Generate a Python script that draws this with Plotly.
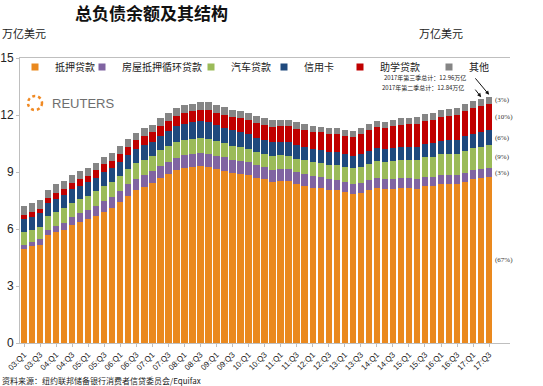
import plotly.graph_objects as go

# ---------------- data (trillion USD) ----------------
quarters = [f"{y:02d}:Q{q}" for y in range(3, 18) for q in range(1, 5)][:59]

mortgage = [4.94, 5.08, 5.18, 5.66,
            5.84, 5.97, 6.21, 6.36,
            6.51, 6.70, 6.91, 7.10,
            7.44, 7.76, 8.04, 8.23,
            8.42, 8.71, 8.91, 9.10,
            9.23, 9.27, 9.29, 9.26,
            9.14, 9.06, 8.94, 8.90,
            8.83, 8.70, 8.61, 8.45,
            8.54, 8.52, 8.36, 8.28,
            8.17, 8.15, 8.03, 8.03,
            7.93, 7.84, 7.90, 8.05,
            8.17, 8.10, 8.13, 8.17,
            8.17, 8.12, 8.26, 8.25,
            8.37, 8.36, 8.35, 8.48,
            8.63, 8.69, 8.74]
heloc = [0.24, 0.26, 0.27, 0.30,
         0.33, 0.37, 0.43, 0.47,
         0.50, 0.53, 0.54, 0.57,
         0.58, 0.59, 0.60, 0.60,
         0.61, 0.62, 0.63, 0.65,
         0.66, 0.68, 0.69, 0.71,
         0.71, 0.71, 0.71, 0.69,
         0.68, 0.67, 0.66, 0.67,
         0.64, 0.63, 0.62, 0.61,
         0.60, 0.59, 0.58, 0.56,
         0.55, 0.54, 0.54, 0.53,
         0.53, 0.52, 0.52, 0.51,
         0.51, 0.51, 0.50, 0.49,
         0.49, 0.48, 0.47, 0.47,
         0.46, 0.45, 0.45]
auto = [0.64, 0.62, 0.68, 0.70,
        0.72, 0.74, 0.75, 0.73,
        0.73, 0.77, 0.83, 0.79,
        0.79, 0.80, 0.82, 0.82,
        0.79, 0.81, 0.82, 0.82,
        0.81, 0.81, 0.82, 0.79,
        0.77, 0.74, 0.74, 0.72,
        0.71, 0.70, 0.70, 0.71,
        0.70, 0.71, 0.73, 0.73,
        0.75, 0.76, 0.78, 0.78,
        0.79, 0.81, 0.84, 0.86,
        0.88, 0.91, 0.94, 0.96,
        0.97, 1.00, 1.03, 1.06,
        1.07, 1.10, 1.14, 1.16,
        1.17, 1.19, 1.21]
credit_card = [0.69, 0.69, 0.69, 0.70,
               0.70, 0.70, 0.71, 0.72,
               0.71, 0.71, 0.73, 0.74,
               0.72, 0.74, 0.75, 0.77,
               0.76, 0.78, 0.81, 0.84,
               0.84, 0.85, 0.86, 0.87,
               0.84, 0.82, 0.81, 0.80,
               0.76, 0.74, 0.73, 0.73,
               0.70, 0.70, 0.70, 0.70,
               0.68, 0.67, 0.67, 0.68,
               0.66, 0.67, 0.67, 0.68,
               0.66, 0.67, 0.68, 0.70,
               0.68, 0.70, 0.71, 0.73,
               0.71, 0.73, 0.75, 0.78,
               0.76, 0.78, 0.81]
student = [0.24, 0.24, 0.25, 0.25,
           0.31, 0.32, 0.33, 0.35,
           0.36, 0.37, 0.39, 0.39,
           0.43, 0.44, 0.45, 0.48,
           0.51, 0.51, 0.53, 0.55,
           0.58, 0.58, 0.61, 0.64,
           0.66, 0.68, 0.69, 0.72,
           0.76, 0.76, 0.78, 0.81,
           0.84, 0.85, 0.87, 0.87,
           0.90, 0.91, 0.96, 0.97,
           0.99, 0.99, 1.03, 1.08,
           1.11, 1.12, 1.13, 1.16,
           1.19, 1.19, 1.20, 1.23,
           1.26, 1.26, 1.28, 1.31,
           1.34, 1.34, 1.36]
other = [0.48, 0.49, 0.48, 0.45,
         0.45, 0.42, 0.42, 0.42,
         0.39, 0.40, 0.41, 0.42,
         0.42, 0.42, 0.41, 0.42,
         0.41, 0.40, 0.41, 0.42,
         0.41, 0.41, 0.41, 0.41,
         0.41, 0.41, 0.38, 0.38,
         0.38, 0.37, 0.35, 0.35,
         0.33, 0.33, 0.33, 0.33,
         0.32, 0.31, 0.31, 0.32,
         0.31, 0.30, 0.31, 0.32,
         0.32, 0.33, 0.34, 0.35,
         0.34, 0.35, 0.35, 0.37,
         0.36, 0.37, 0.38, 0.39,
         0.38, 0.39, 0.39]

series_names = ["抵押贷款", "房屋抵押循环贷款", "汽车贷款", "信用卡", "助学贷款", "其他"]
series_values = [mortgage, heloc, auto, credit_card, student, other]
share_labels = ["(67%)", "(3%)", "(9%)", "(6%)", "(10%)", "(3%)"]
total_notes = ["2017年第三季总计：12.96万亿", "2017年第二季总计：12.84万亿"]

# ---------------- style ----------------
colors = ["#EA891E", "#8064A2", "#9BBB59", "#1F497D", "#C00000", "#858585"]
CJK = "Noto Sans CJK SC"
LAT = "Liberation Sans"
W, H = 543, 386
# plot area in window pixels: x 20..510, y 58..343
L, T = 20, 58
R, B = W - 510, H - 343
PW, PH = W - L - R, H - T - B


def px(x):
    """window pixel x -> paper fraction"""
    return (x - L) / PW


def py(y):
    """window pixel y -> paper fraction"""
    return (H - B - y) / PH


xs = list(range(len(quarters)))
fig = go.Figure()
for name, vals, c in zip(series_names, series_values, colors):
    fig.add_trace(go.Bar(x=xs, y=vals, name=name, marker=dict(color=c, line=dict(width=0)),
                         showlegend=False, hovertemplate="%{y:.2f}<extra>" + name + "</extra>"))

# symbol centres of the legend entries (window px)
legend_sym_x = [35, 102, 211, 284, 360, 449]
layout_legends = {}
for i, (name, c) in enumerate(zip(series_names, colors)):
    key = "legend" if i == 0 else f"legend{i + 1}"
    fig.add_trace(go.Scatter(x=[None], y=[None], mode="markers", name=name,
                             marker=dict(symbol="square", size=7, color=c),
                             legend=key, showlegend=True))
    layout_legends[key] = dict(x=px(legend_sym_x[i] - 20), y=py(67), xanchor="left", yanchor="middle",
                               bgcolor="rgba(0,0,0,0)", borderwidth=0,
                               font=dict(family=CJK, size=10, color="#222"))


def note(text, x, y, size, anchor="left", family=CJK, color="#222"):
    return dict(text=text, x=px(x), y=py(y), xref="paper", yref="paper", xanchor=anchor,
                yanchor="middle", showarrow=False, font=dict(family=family, size=size, color=color))


annotations = [
    note("<b>总负债余额及其结构</b>", 151, 13, 17, anchor="center", color="#111"),
    note("万亿美元", 0, 33, 11),
    note("万亿美元", 417, 33, 11),
    note("资料来源：纽约联邦储备银行消费者信贷委员会/Equifax", 0, 380, 8),
    note("REUTERS", 50, 103, 13, family=LAT, color="#6e6e6e"),
    note(total_notes[0], 382, 77.5, 6),
    note(total_notes[1], 380, 87, 6),
]
# share labels next to the last bar
last = len(xs) - 1
cum = 0
for vals, lab in zip(series_values, share_labels):
    mid = cum + vals[last] / 2
    cum += vals[last]
    annotations.append(dict(text=lab, x=last + 0.45, y=mid, xref="x", yref="y", xanchor="left",
                            yanchor="middle", showarrow=False,
                            font=dict(family="Liberation Serif", size=7, color="#333")))
tot_last = sum(v[last] for v in series_values)
tot_prev = sum(v[last - 1] for v in series_values)
annotations.append(dict(text="", x=last, y=tot_last + 0.1, xref="x", yref="y", showarrow=True,
                        ax=-15, ay=-18, arrowhead=2, arrowsize=0.8, arrowwidth=1, arrowcolor="#111"))
annotations.append(dict(text="", x=last - 1, y=tot_prev + 0.1, xref="x", yref="y", showarrow=True,
                        ax=-7, ay=-9, arrowhead=2, arrowsize=0.8, arrowwidth=1, arrowcolor="#111"))

axis_col = "#BFBFBF"
fig.update_layout(
    width=W, height=H, margin=dict(l=L, r=R, t=T, b=B, pad=0, autoexpand=False),
    paper_bgcolor="white", plot_bgcolor="white",
    barmode="stack", bargap=0.2,
    annotations=annotations,
    shapes=[dict(type="circle", xref="paper", yref="paper", x0=px(28), x1=px(42), y0=py(110), y1=py(96),
                 line=dict(color="#F08A24", width=2.5, dash="dot"))],
    xaxis=dict(range=[-0.5, 60.6], tickvals=xs[::2], ticktext=quarters[::2], tickangle=-45,
               tickfont=dict(family=LAT, size=8, color="#222"), showline=True, linecolor=axis_col,
               mirror=True, ticks="outside", ticklen=3, tickcolor=axis_col, showgrid=False,
               zeroline=False, automargin=False),
    yaxis=dict(range=[0, 15], tickvals=[0, 3, 6, 9, 12, 15], showline=True, linecolor=axis_col,
               ticks="outside", ticklen=3, tickcolor=axis_col, showgrid=False, zeroline=False,
               automargin=False, tickfont=dict(family=LAT, size=12, color="#222")),
    yaxis2=dict(range=[0, 15], tickvals=[0, 3, 6, 9, 12, 15], overlaying="y", side="right",
                showline=True, linecolor=axis_col, ticks="inside", ticklen=4, tickcolor=axis_col,
                showgrid=False, zeroline=False, automargin=False,
                tickfont=dict(family=LAT, size=12, color="#222")),
    **layout_legends,
)
fig.write_html("out.html", config={"displayModeBar": False},
               post_script="document.body.style.margin='0';document.body.style.overflow='hidden';")
